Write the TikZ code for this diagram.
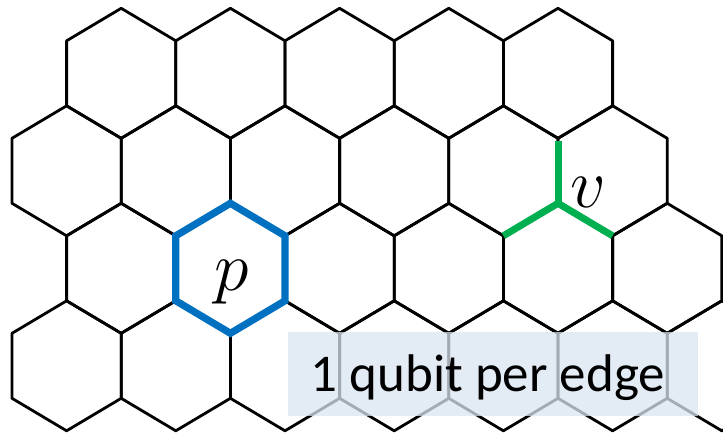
\RequirePackage{fix-cm}
\documentclass[tikz,border=0pt]{standalone}
\usepackage{fontspec}
\newfontfamily\carlito{Carlito}
\definecolor{pblue}{RGB}{0,112,192}
\definecolor{vgreen}{RGB}{0,176,80}
\definecolor{boxfill}{RGB}{218,228,241}
\begin{document}
\begin{tikzpicture}[x=1pt,y=-1pt,
  lattice/.style={line width=2.8pt, line join=round, black},
  plaq/.style={line width=7.2pt, pblue, line join=miter},
  starline/.style={line width=7pt, vgreen},
  labelbox/.style={fill=boxfill, fill opacity=0.75, draw=none, inner sep=0pt,
    minimum width=410pt, minimum height=84pt},
  boxtext/.style={font=\carlito\fontsize{53}{58}\selectfont, anchor=base, inner sep=0pt, text=black},
  mathlbl/.style={font=\fontsize{70}{76}\selectfont, anchor=base, inner sep=0pt}]
\useasboundingbox (0,0) rectangle (723,436);
\begin{scope}
\clip (0,0) rectangle (723,436);
\foreach \r/\ks in {0/{2,4,6,8,10},1/{1,3,5,7,9,11},2/{2,4,6,8,10,12},3/{1,3,5,7,9,11,13}} {
  \foreach \k in \ks {
    \pgfmathsetmacro\cx{12+54.6*\k}
    \pgfmathsetmacro\cy{73.3+97.5*\r}
    \draw[lattice] (\cx,\cy-65) -- ++(54.6,32.5) -- ++(0,65) -- ++(-54.6,32.5)
      -- ++(-54.6,-32.5) -- ++(0,-65) -- cycle;
  }
}
\end{scope}
% plaquette p
\coordinate (pc) at (230.4,268.3);
\draw[plaq] ([shift={(0,-65)}]pc) -- ++(54.6,32.5) -- ++(0,65) -- ++(-54.6,32.5)
  -- ++(-54.6,-32.5) -- ++(0,-65) -- cycle;
% star v
\coordinate (v) at (558,203.3);
\coordinate (vt) at (558,140.5);
\coordinate (vl) at (503.4,235.8);
\coordinate (vr) at (612.6,235.8);
\draw[starline] (vt) -- (v);
\draw[starline] (vl) -- (v) -- (vr);
\node[mathlbl] (plabel) at (232,290) {$p$};
\node[mathlbl] (vlabel) at (588,207) {$v$};
\node[labelbox] (box) at (493,374) {};
\node[boxtext] (lbl) at (488,391) {1 qubit per edge};
\end{tikzpicture}
\end{document}
